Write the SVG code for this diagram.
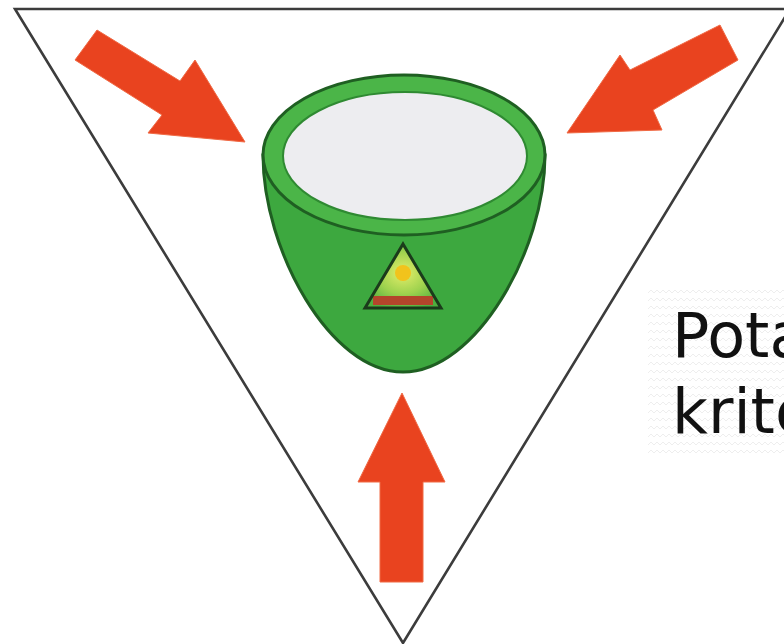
<svg xmlns="http://www.w3.org/2000/svg" width="784" height="644" viewBox="0 0 784 644">
  <style>
    .frame { fill: none; stroke: #3c3c3c; stroke-width: 2.6; stroke-linejoin: miter; }
    .arrow { fill: #E9431F; stroke: #F06A45; stroke-width: 1; stroke-linejoin: round; }
    .outline { stroke: #1F5F22; stroke-width: 3; }
    .label { font-family: "DejaVu Sans", "Noto Sans", sans-serif; font-size: 62px; fill: #111111; }
  </style>
  <defs>
    <pattern id="wave" width="12" height="8" patternUnits="userSpaceOnUse">
      <path d="M0,5 L3,2 L6,5 L9,2 L12,5" fill="none" stroke="#eeeeee" stroke-width="1"/>
    </pattern>
    <radialGradient id="emblemFill" cx="0.5" cy="0.45" r="0.6">
      <stop offset="0" stop-color="#E4EE6A"/>
      <stop offset="0.55" stop-color="#9ED24E"/>
      <stop offset="1" stop-color="#4DAF3E"/>
    </radialGradient>
  </defs>

  <rect x="0" y="0" width="784" height="644" fill="#ffffff"/>

  <!-- inverted triangle frame -->
  <g id="frame">
    <path class="frame" d="M790,9 L15,9 L403,643 L790,9" />
  </g>

  <!-- bowl in the centre -->
  <g id="bowl">
    <path class="outline" fill="#3DA83F" d="M263,155 C263,250 330,372 403,372 C476,372 545,250 545,155 Z"/>
    <ellipse class="outline" cx="404" cy="155" rx="141" ry="80" fill="#4BB548"/>
    <ellipse cx="405" cy="156" rx="122" ry="64" fill="#EDEDF0" stroke="#2F8A32" stroke-width="2"/>
    <g id="emblem">
      <path d="M403,244 L441,308 L365,308 Z" fill="url(#emblemFill)"/>
      <circle cx="403" cy="273" r="8" fill="#F1C31C"/>
      <rect x="373" y="296" width="60" height="9" fill="#B4452B"/>
      <path d="M403,244 L441,308 L365,308 Z" fill="none" stroke="#1B3B1B" stroke-width="3" stroke-linejoin="miter"/>
    </g>
  </g>

  <!-- pressure arrows -->
  <g id="connectors">
    <polygon class="arrow" points="97,30 180,81 195,60 245,142 148,133 162,115 75,60"/>
    <polygon class="arrow" points="720,25 630,70 620,55 567,133 662,130 653,110 738,60"/>
    <polygon class="arrow" points="402,393 445,482 423,482 423,582 380,582 380,482 358,482"/>
  </g>

  <!-- caption -->
  <g id="caption">
    <rect x="648" y="290" width="136" height="168" fill="url(#wave)"/>
    <text class="label" x="672" y="357">Pota</text>
    <text class="label" x="672" y="433">krite</text>
  </g>
</svg>
